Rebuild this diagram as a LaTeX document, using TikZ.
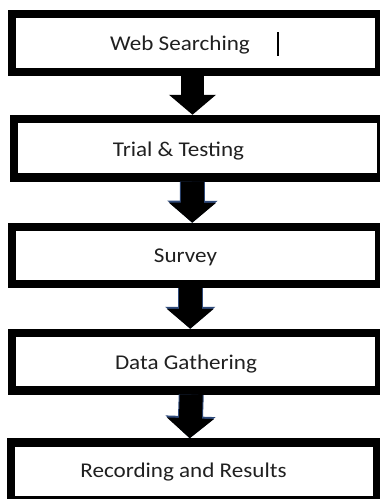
\documentclass[tikz,border=0pt]{standalone}
\usepackage{fontspec}
\setmainfont{Carlito}[FakeStretch=1.1]
\usetikzlibrary{arrows.meta}
\definecolor{edgenavy}{HTML}{2F4A7A}
\definecolor{textgray}{HTML}{202020}
\begin{document}
\begin{tikzpicture}[x=1pt,y=-1pt,
  stepbox/.style={draw=black, line width=8.5pt, fill=white, rectangle, inner sep=0pt},
  steptext/.style={anchor=base, inner sep=0pt, text=textgray, font=\fontsize{21}{24}\selectfont},
  blockarrow/.style={draw=black, line width=23pt, -{Triangle[length=20pt, width=46pt]}},
  navyedge/.style={preaction={draw=edgenavy, line width=25pt, -{Triangle[length=22pt, width=49pt]}}}
]
\useasboundingbox (0,0) rectangle (380,499);
\fill[white] (0,0) rectangle (380,499);
\clip (0,0) rectangle (380,499);

% boxes
\node[stepbox, minimum width=367pt, minimum height=58pt]   (b1) at (195.5,43) {};
\node[stepbox, minimum width=367pt, minimum height=58.5pt] (b2) at (197.5,148.25) {};
\node[stepbox, minimum width=367.5pt, minimum height=57pt] (b3) at (195.75,255.5) {};
\node[stepbox, minimum width=367.5pt, minimum height=57.5pt] (b4) at (195.75,361.75) {};
\node[stepbox, minimum width=366.5pt, minimum height=57.5pt] (b5) at (194.25,471.25) {};

% texts
\node[steptext] (t1) at (180,50) {Web Searching};
\node[steptext] (t2) at (178.5,156.5) {Trial \& Testing};
\node[steptext] (t3) at (185.5,262) {Survey};
\node[steptext] (t4) at (186,369) {Data Gathering};
\node[steptext] (t5) at (183.5,477) {Recording and Results};

% text cursor
\draw[line width=1.3pt, black] (278,32) -- (278,56);

% block arrows
\draw[blockarrow] ([xshift=-3pt]b1.south) -- ([xshift=-5pt]b2.north);
\draw[blockarrow, navyedge] ([xshift=-5pt]b2.south) -- ([xshift=-3.5pt]b3.north);
\draw[blockarrow, navyedge] ([xshift=-5.5pt]b3.south) -- ([xshift=-5.5pt]b4.north);
\draw[blockarrow, navyedge] ([xshift=-4.5pt]b4.south) -- ([xshift=-4.5pt]b5.north);
\end{tikzpicture}
\end{document}
